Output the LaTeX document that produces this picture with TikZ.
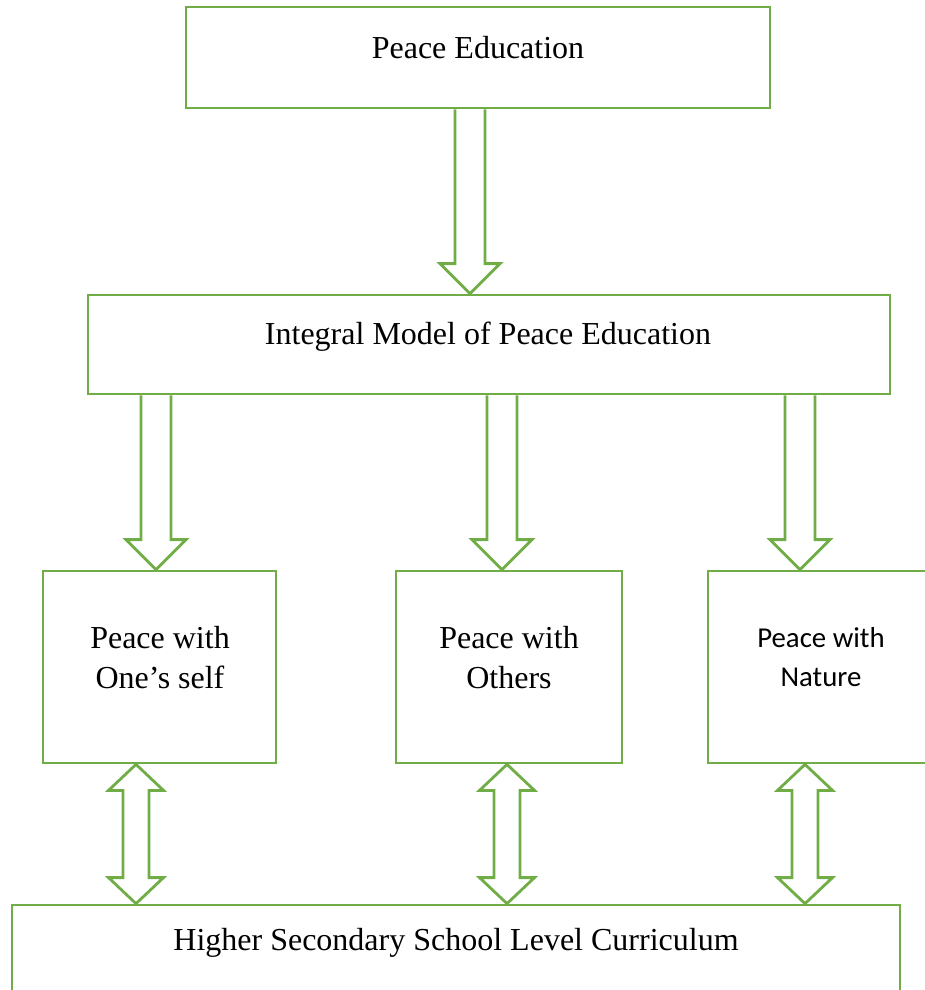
\documentclass[tikz,border=0pt]{standalone}
\usepackage{fontspec}
\setmainfont{Liberation Serif}
\newfontfamily\calibri{Carlito}
\usetikzlibrary{calc}
\definecolor{leaf}{HTML}{70AD47}

\newcommand{\flowdown}[2]{%
  \draw[flow] let \p1=(#1), \p2=(#2) in
    (\x1-7.5pt,\y1) -- (\x1-7.5pt,\y2+15pt) -- (\x1-15pt,\y2+15pt) -- (\x2,\y2)
    -- (\x1+15pt,\y2+15pt) -- (\x1+7.5pt,\y2+15pt) -- (\x1+7.5pt,\y1);}
\newcommand{\flowboth}[2]{%
  \draw[flow] let \p1=(#1), \p2=(#2) in
    (\x1,\y1) -- (\x1+13.75pt,\y1-13pt) -- (\x1+6.5pt,\y1-13pt) -- (\x1+6.5pt,\y2+13pt)
    -- (\x1+13.75pt,\y2+13pt) -- (\x2,\y2) -- (\x1-13.75pt,\y2+13pt) -- (\x1-6.5pt,\y2+13pt)
    -- (\x1-6.5pt,\y1-13pt) -- (\x1-13.75pt,\y1-13pt) -- cycle;}

\begin{document}
\begin{tikzpicture}[
  x=0.5pt, y=-0.5pt,
  box/.style={draw=leaf, line width=1.4pt, inner sep=0pt},
  flow/.style={draw=leaf, line width=1.4pt, line join=miter},
  txt/.style={font=\fontsize{16}{20}\selectfont, align=center},
  txtsans/.style={font=\calibri\fontsize{14.4}{19.5}\selectfont, align=center}
]
\useasboundingbox (0,0) rectangle (925,990);
\clip (0,0) rectangle (925,990);

\node[box, minimum width=292pt, minimum height=50.5pt] (pe) at (478,57.5) {};
\node[box, minimum width=401pt, minimum height=49.5pt] (imp) at (489,344.5) {};
\node[box, minimum width=116.5pt, minimum height=96pt] (self) at (159.5,667) {};
\node[box, minimum width=113pt, minimum height=96pt] (others) at (509,667) {};
\node[box, minimum width=116.5pt, minimum height=96pt] (nature) at (824.5,667) {};
\node[box, minimum width=444pt, minimum height=50pt] (hsc) at (456,955) {};

\node[txt] (pe-t) at (478,48) {Peace Education};
\node[txt] (imp-t) at (488,337) {Integral Model of Peace Education};
\node[txt] (self-t) at (160,658) {Peace with\\One’s self};
\node[txt] (others-t) at (509,658) {Peace with\\Others};
\node[txtsans] (nature-t) at (821,657) {Peace with\\Nature};
\node[txt] (hsc-t) at (456,943) {Higher Secondary School Level Curriculum};

\coordinate (c0) at (470,0);
\coordinate (c1) at (156,0);
\coordinate (c2) at (502,0);
\coordinate (c3) at (800,0);
\coordinate (d1) at (136,0);
\coordinate (d2) at (507,0);
\coordinate (d3) at (805,0);

\flowdown{pe.south -| c0}{imp.north -| c0}
\flowdown{imp.south -| c1}{self.north -| c1}
\flowdown{imp.south -| c2}{others.north -| c2}
\flowdown{imp.south -| c3}{nature.north -| c3}
\flowboth{self.south -| d1}{hsc.north -| d1}
\flowboth{others.south -| d2}{hsc.north -| d2}
\flowboth{nature.south -| d3}{hsc.north -| d3}
\end{tikzpicture}
\end{document}
